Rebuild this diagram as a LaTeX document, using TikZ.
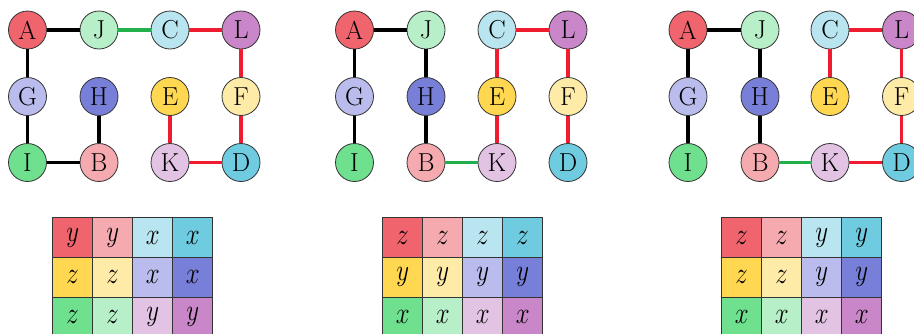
\documentclass[tikz,border=0pt]{standalone}
\definecolor{cA}{HTML}{F0646E}
\definecolor{cB}{HTML}{F5AAB0}
\definecolor{cC}{HTML}{B9E5F0}
\definecolor{cD}{HTML}{6ECBE0}
\definecolor{cE}{HTML}{FFD750}
\definecolor{cF}{HTML}{FFEBA8}
\definecolor{cG}{HTML}{B9BCEC}
\definecolor{cH}{HTML}{787FD8}
\definecolor{cI}{HTML}{6EE08E}
\definecolor{cJ}{HTML}{B6EFC8}
\definecolor{cK}{HTML}{E3C3E4}
\definecolor{cL}{HTML}{C986C8}
\definecolor{egreen}{HTML}{22B04C}
\definecolor{ered}{HTML}{EE1C2E}
\newcommand\mypanel[5]{%
 \node[vtx,fill=cA] (#1A) at (#2,30) {A};
 \node[vtx,fill=cJ] (#1J) at (#3,30) {J};
 \node[vtx,fill=cC] (#1C) at (#4,30) {C};
 \node[vtx,fill=cL] (#1L) at (#5,30) {L};
 \node[vtx,fill=cG] (#1G) at (#2,96.5) {G};
 \node[vtx,fill=cH] (#1H) at (#3,96.5) {H};
 \node[vtx,fill=cE] (#1E) at (#4,96.5) {E};
 \node[vtx,fill=cF] (#1F) at (#5,96.5) {F};
 \node[vtx,fill=cI] (#1I) at (#2,162.5) {I};
 \node[vtx,fill=cB] (#1B) at (#3,162.5) {B};
 \node[vtx,fill=cK] (#1K) at (#4,162.5) {K};
 \node[vtx,fill=cD] (#1D) at (#5,162.5) {D};
}
\newcommand\mygrid[3]{%
 \foreach \cc/\ll [count=\i from 0] in {#3}{%
   \pgfmathtruncatemacro\col{mod(\i,4)}%
   \pgfmathtruncatemacro\row{div(\i,4)}%
   \node[cell,fill=\cc] (#1\i) at ({#2+20+40*\col},{237.6+39.8*\row}) {\scalebox{1}[1.22]{$\ll$}};
 }}
\begin{document}
\begin{tikzpicture}[x=1pt,y=-1pt,
  vtx/.style={circle,draw=black!80,line width=0.8pt,minimum size=38pt,inner sep=0pt,font=\fontsize{26}{26}\selectfont},
  blk/.style={line width=3.4pt,draw=black},
  grn/.style={line width=3.4pt,draw=egreen},
  rd/.style={line width=3.4pt,draw=ered},
  cell/.style={draw=black!80,line width=1.2pt,minimum width=40pt,minimum height=39.8pt,inner sep=0pt,font=\fontsize{24.88}{25}\selectfont}]
\useasboundingbox (0,0) rectangle (914,333);
\clip (0,0) rectangle (914,333);
% panel 1
\mypanel{p}{27.5}{99}{170}{241}
\draw[blk] (pA) -- (pJ);
\draw[grn] (pJ) -- (pC);
\draw[rd] (pC) -- (pL);
\draw[blk] (pA) -- (pG);
\draw[blk] (pG) -- (pI);
\draw[blk] (pI) -- (pB);
\draw[blk] (pB) -- (pH);
\draw[rd] (pL) -- (pF);
\draw[rd] (pF) -- (pD);
\draw[rd] (pD) -- (pK);
\draw[rd] (pK) -- (pE);
% panel 2
\mypanel{q}{354.5}{426}{497}{568}
\draw[blk] (qA) -- (qJ);
\draw[blk] (qA) -- (qG);
\draw[blk] (qG) -- (qI);
\draw[blk] (qJ) -- (qH);
\draw[blk] (qH) -- (qB);
\draw[grn] (qB) -- (qK);
\draw[rd] (qK) -- (qE);
\draw[rd] (qE) -- (qC);
\draw[rd] (qC) -- (qL);
\draw[rd] (qL) -- (qF);
\draw[rd] (qF) -- (qD);
% panel 3
\mypanel{r}{688}{760}{830}{901.5}
\draw[blk] (rA) -- (rJ);
\draw[blk] (rA) -- (rG);
\draw[blk] (rG) -- (rI);
\draw[blk] (rJ) -- (rH);
\draw[blk] (rH) -- (rB);
\draw[grn] (rB) -- (rK);
\draw[rd] (rK) -- (rD);
\draw[rd] (rD) -- (rF);
\draw[rd] (rF) -- (rL);
\draw[rd] (rL) -- (rC);
\draw[rd] (rC) -- (rE);
% grids
\mygrid{g}{52.7}{cA/y,cB/y,cC/x,cD/x,cE/z,cF/z,cG/x,cH/x,cI/z,cJ/z,cK/y,cL/y}
\mygrid{h}{382.7}{cA/z,cB/z,cC/z,cD/z,cE/y,cF/y,cG/y,cH/y,cI/x,cJ/x,cK/x,cL/x}
\mygrid{k}{721.7}{cA/z,cB/z,cC/y,cD/y,cE/z,cF/z,cG/y,cH/y,cI/x,cJ/x,cK/x,cL/x}
\end{tikzpicture}
\end{document}
